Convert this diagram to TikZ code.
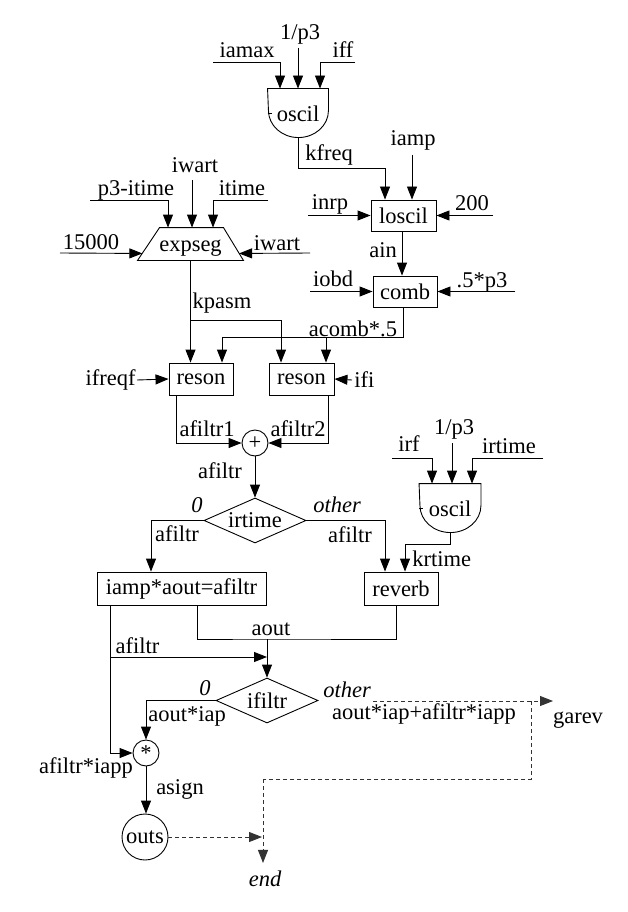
\documentclass[tikz,border=0pt]{standalone}
\usepackage{fontspec}
\setmainfont{Liberation Serif}
\usetikzlibrary{arrows.meta,calc,shapes.geometric}
\begin{document}
\begin{tikzpicture}[x=1pt,y=-1pt,line width=0.9pt,
  every node/.style={font=\fontsize{22.5}{27}\selectfont},
  itl/.style={font=\fontsize{22.5}{27}\selectfont\itshape},
  arr/.style={-{Triangle[length=13pt,width=10pt]}},
  dsh/.style={dash pattern=on 4pt off 3pt,draw=black!80},
  lbl/.style={inner sep=0pt,anchor=base},
  box/.style={draw,inner sep=0pt},
  cir/.style={draw,circle,inner sep=0pt},
  dia/.style={draw,diamond,aspect=2.27,inner sep=0pt,minimum width=102pt,minimum height=45pt},
  shp/.style={inner sep=0pt}]
\useasboundingbox (0,0) rectangle (628,912);
\fill[white] (0,0) rectangle (628,912);

% ---------- top oscil ----------
\node[shp,minimum width=60pt,minimum height=49pt] (osc1) at (298,113.5) {oscil};
\draw (osc1.north west) -- (osc1.north east) -- ($(osc1.north east)+(0,22)$)
  arc[start angle=0,end angle=-180,x radius=30pt,y radius=27pt] -- cycle;
\draw (osc1.west) -- ++(4,0);
\node[lbl] (iamax) at (247,58) {iamax};
\node[lbl] (p3a) at (300,40) {1/p3};
\node[lbl] (iff) at (343,58) {iff};
\coordinate (iamaxS) at (213,62);
\coordinate (p3aS) at (298,48);
\coordinate (iffS) at (355,62);
\draw[arr] (iamaxS) -| ($(osc1.north)+(-18,0)$);
\draw[arr] (p3aS) -- (osc1.north);
\draw[arr] (iffS) -| ($(osc1.north)+(22,0)$);

% ---------- loscil ----------
\node[box,minimum width=65pt,minimum height=31pt] (loscil) at (403.5,215.5) {loscil};
\node[lbl,anchor=base west] (kfreq) at (305,161) {kfreq};
\node[lbl] (iamp) at (413,146) {iamp};
\coordinate (iampS) at (412,155);
\draw[arr] (osc1.south) -- ++(0,30) -| ($(loscil.north)+(-18.5,0)$);
\draw[arr] (iampS) -- (iampS |- loscil.north);
\node[lbl] (inrp) at (330,209) {inrp};
\node[lbl] (n200) at (472,210) {200};
\coordinate (inrpS) at (308,215.5);
\coordinate (n200S) at (493,215.5);
\draw[arr] (inrpS) -- (loscil.west);
\draw[arr] (n200S) -- (loscil.east);

% ---------- comb ----------
\node[box,minimum width=64pt,minimum height=31pt] (comb) at (405,291.5) {comb};
\node[lbl] (ain) at (383,257) {ain};
\draw[arr] ($(loscil.south)+(-1.5,0)$) -- ($(loscil.south |- comb.north)+(-1.5,0)$);
\node[lbl] (iobd) at (333,286) {iobd};
\node[lbl] (p5) at (482,287) {.5*p3};
\coordinate (iobdS) at (310,291.5);
\coordinate (p5S) at (515,291.5);
\draw[arr] (iobdS) -- (comb.west);
\draw[arr] (p5S) -- (comb.east);

% ---------- expseg ----------
\node[shp,minimum width=105pt,minimum height=32pt,text height=15pt,text depth=0pt] (expseg) at (190.5,244) {expseg};
\draw (expseg.south west) -- ($(expseg.north west)+(22,0)$) -- ($(expseg.north east)+(-20,0)$)
  -- (expseg.south east) -- cycle;
\node[lbl] (p3itime) at (136,195) {p3-itime};
\node[lbl] (iwartA) at (195,173) {iwart};
\node[lbl] (itime) at (242,195) {itime};
\node[lbl] (n15000) at (91,249) {15000};
\node[lbl] (iwartB) at (277,250) {iwart};
\coordinate (p3itimeS) at (90,200);
\coordinate (iwartAS) at (192,180);
\coordinate (itimeS) at (268,200);
\coordinate (n15000S) at (60,253);
\coordinate (iwartBS) at (310,253);
\draw[arr] (p3itimeS) -| ($(expseg.north)+(-22.5,0)$);
\draw[arr] (iwartAS) -- ($(expseg.north)+(1.5,0)$);
\draw[arr] (itimeS) -| ($(expseg.north)+(22.5,0)$);
\draw[arr] (n15000S) -- ($(expseg.south west)+(4.8,-7)$);
\draw[arr] (iwartBS) -- ($(expseg.south east)+(-4.4,-7)$);

% ---------- resons ----------
\node[box,minimum width=64pt,minimum height=32pt] (reson1) at (201,379) {reson};
\node[box,minimum width=65pt,minimum height=32pt] (reson2) at (301.5,379) {reson};
\node[lbl] (kpasm) at (222,308) {kpasm};
\draw[arr] (expseg.south) -- (expseg.south |- reson1.north);
\draw[arr] ($(expseg.south)+(0,60)$) -| ($(reson2.north)+(-20.5,0)$);
\node[lbl] (acomb) at (353,336) {acomb*.5};
\draw[arr] ($(comb.south)+(-2,0)$) |- ($(reson1.north)+(21,-25)$) -- ($(reson1.north)+(21,0)$);
\draw[arr] ($(reson2.north)+(24.5,-25)$) -- ($(reson2.north)+(24.5,0)$);
\node[anchor=east,inner sep=1pt] (ifreqf) at (137,380) {ifreqf};
\draw[arr] (ifreqf.east) -- (reson1.west);
\node[anchor=west,inner sep=2pt] (ifi) at (352,380) {ifi};
\draw[arr] (ifi.west) -- (reson2.east);

% ---------- plus ----------
\node[cir,minimum size=26pt] (plus) at (255,443) {+};
\node[lbl] (afiltr1) at (207,436) {afiltr1};
\node[lbl] (afiltr2) at (298,436) {afiltr2};
\draw[arr] ($(reson1.south)+(-25,0)$) |- (plus.west);
\draw[arr] ($(reson2.south)+(26.5,0)$) |- (plus.east);

% ---------- irtime ----------
\node[dia] (irtime) at (255,520.5) {irtime};
\node[lbl] (afiltrA) at (220,478) {afiltr};
\draw[arr] (plus.south) -- (irtime.north);
\node[box,minimum width=169pt,minimum height=33pt] (iampbox) at (181.5,588.5) {iamp*aout=afiltr};
\node[box,minimum width=74pt,minimum height=33pt] (reverb) at (401,588.5) {reverb};
\node[lbl,itl] (zeroA) at (197,512) {0};
\node[lbl] (afiltrB) at (177,541) {afiltr};
\draw[arr] (irtime.west) -| ($(iampbox.north)+(-30.5,0)$);
\node[lbl,itl] (otherA) at (337,512) {other};
\node[lbl] (afiltrC) at (350,542) {afiltr};
\draw[arr] (irtime.east) -| ($(reverb.north)+(-16,0)$);

% ---------- oscil 2 ----------
\node[shp,minimum width=61pt,minimum height=49pt] (osc2) at (450,508.5) {oscil};
\draw (osc2.north west) -- (osc2.north east) -- ($(osc2.north east)+(0,22)$)
  arc[start angle=0,end angle=-180,x radius=30.5pt,y radius=27pt] -- cycle;
\draw (osc2.west) -- ++(4,0);
\node[lbl] (irf) at (409,451) {irf};
\node[lbl] (p3b) at (454,434) {1/p3};
\node[lbl] (irtimeL) at (509,453) {irtime};
\coordinate (irfS) at (392,458);
\coordinate (p3bS) at (452,443);
\coordinate (irtimeS) at (543,458);
\draw[arr] (irfS) -| ($(osc2.north)+(-18,0)$);
\draw[arr] (p3bS) -- (p3bS |- osc2.north);
\draw[arr] (irtimeS) -| ($(osc2.north)+(22,0)$);
\node[lbl,anchor=base west] (krtime) at (412,566) {krtime};
\draw[arr] (osc2.south) -- ++(0,11) -| ($(reverb.north)+(4,0)$);

% ---------- aout / afiltr ----------
\node[lbl] (aout) at (271,635) {aout};
\coordinate (aoutJ) at (267,639);
\draw ($(iampbox.south)+(15.5,0)$) |- (aoutJ) -| ($(reverb.south)+(-5,0)$);
\node[dia] (ifiltr) at (267,700.5) {ifiltr};
\draw[arr] (aoutJ) -- (ifiltr.north);
\node[cir,minimum size=26pt] (star) at (146,753) {*};
\node[lbl] (afiltrD) at (137.5,653) {afiltr};
\draw[arr] ($(iampbox.south)+(-71.5,0)$) |- ($(aoutJ)+(0,18)$);
\draw[arr] ($(iampbox.south)+(-71.5,0)$) |- (star.west);
\node[lbl] (afiltriapp) at (86,773) {afiltr*iapp};
\node[lbl,itl] (zeroB) at (205,695) {0};
\node[lbl] (aoutiap) at (187,721) {aout*iap};
\draw[arr] (ifiltr.west) -| (star.north);

% ---------- outs ----------
\node[cir,minimum size=46pt] (outs) at (145,837) {outs};
\node[lbl] (asign) at (180,794) {asign};
\draw[arr] (star.south) -- (star.south |- outs.north);

% ---------- dashed part ----------
\node[lbl,itl] (otherB) at (347,697) {other};
\node[lbl] (sumL) at (424,719) {aout*iap+afiltr*iapp};
\node[lbl] (garev) at (578,723) {garev};
\node[lbl,itl] (endN) at (265,886) {end};
\coordinate (othS) at (373,701);
\coordinate (garevA) at (553,701);
\coordinate (dashC) at (531,701);
\coordinate (endV) at (263,779);
\draw[arr,dsh] (othS) -- (garevA);
\draw[dsh] (dashC) |- (endV);
\draw[arr,dsh] (endV) -- ($(endV |- endN.north)+(0,-7)$);
\draw[arr,dsh] (outs.east) -- ($(outs.east -| endV)+(-1,0)$);
\end{tikzpicture}
\end{document}
